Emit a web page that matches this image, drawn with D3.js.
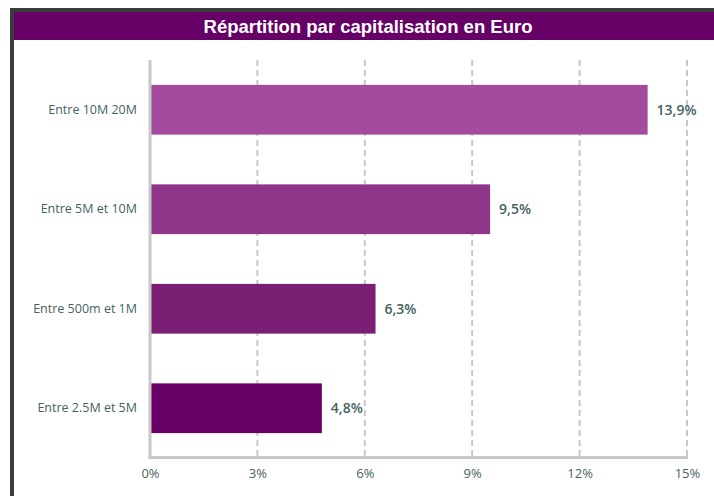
<!DOCTYPE html>
<html>
<head>
<meta charset="utf-8">
<script src="https://cdn.jsdelivr.net/npm/d3@7"></script>
<style>
	body { margin: 0; background: #fff; }
	svg { display: block; }
</style>
</head>
<body>
<div id="chart"></div>
<script>
	// data
	var categories = ["Entre 10M 20M", "Entre 5M et 10M", "Entre 500m et 1M", "Entre 2.5M et 5M"];
	var values = [13.9, 9.5, 6.3, 4.8];
	var valueLabels = ["13,9%", "9,5%", "6,3%", "4,8%"];
	var tickValues = [0, 3, 6, 9, 12, 15];
	var barColors = ["#a54b9f", "#8f3589", "#7a1f74", "#660066"];
	var title = "Répartition par capitalisation en Euro";

	var width = 714, height = 496;
	var textColor = "#456262";
	var labelFont = "'Open Sans', 'Noto Sans', sans-serif";

	var svg = d3.select("#chart").append("svg")
		.attr("width", width)
		.attr("height", height);

	// dark frame
	svg.append("rect").attr("x", 10).attr("y", 8).attr("width", width - 10).attr("height", 4).attr("fill", "#3c3c3c");
	svg.append("rect").attr("x", 10).attr("y", 8).attr("width", 4).attr("height", height - 8).attr("fill", "#3c3c3c");

	// title bar
	svg.append("rect").attr("x", 14).attr("y", 12).attr("width", width - 14).attr("height", 28).attr("fill", "#660066");
	svg.append("text")
		.attr("x", 368)
		.attr("y", 33)
		.attr("text-anchor", "middle")
		.attr("fill", "#fff")
		.style("font-family", "'Liberation Sans', Arial, sans-serif")
		.style("font-weight", "bold")
		.style("font-size", "18.5px")
		.text(title);

	// scales
	var x = d3.scaleLinear().domain([0, 15]).range([150, 687]);
	var y = d3.scaleBand().domain(categories).range([60, 458]).paddingInner(0.5).paddingOuter(0.25);

	// dashed gridlines
	svg.selectAll(".grid")
		.data(tickValues.filter(function(d) { return d > 0; }))
	  .enter().append("line")
		.attr("class", "grid")
		.attr("x1", function(d) { return x(d); })
		.attr("x2", function(d) { return x(d); })
		.attr("y1", 60)
		.attr("y2", 458)
		.attr("stroke", "#c8c8c8")
		.attr("stroke-width", 2)
		.attr("stroke-dasharray", "6,4");

	// bars
	svg.selectAll(".bar")
		.data(values)
	  .enter().append("rect")
		.attr("class", "bar")
		.attr("x", x(0))
		.attr("y", function(d, i) { return y(categories[i]); })
		.attr("width", function(d) { return x(d) - x(0); })
		.attr("height", y.bandwidth())
		.attr("fill", function(d, i) { return barColors[i]; });

	// value labels
	svg.selectAll(".val")
		.data(values)
	  .enter().append("text")
		.attr("class", "val")
		.attr("x", function(d) { return x(d) + 9; })
		.attr("y", function(d, i) { return y(categories[i]) + y.bandwidth() / 2; })
		.attr("dy", "0.35em")
		.attr("fill", textColor)
		.style("font-family", labelFont)
		.style("font-weight", "600")
		.style("font-size", "14px")
		.text(function(d, i) { return valueLabels[i]; });

	// axis lines
	svg.append("line")
		.attr("x1", x(0)).attr("x2", x(0))
		.attr("y1", 60).attr("y2", 459)
		.attr("stroke", "#c8c8c8").attr("stroke-width", 3);
	svg.append("line")
		.attr("x1", x(0) - 1.5).attr("x2", x(15) + 1)
		.attr("y1", 457.5).attr("y2", 457.5)
		.attr("stroke", "#c8c8c8").attr("stroke-width", 3);

	// y labels
	var yAxis = d3.axisLeft(y).tickSize(0).tickPadding(13);
	var yg = svg.append("g")
		.attr("transform", "translate(" + x(0) + ",0)")
		.call(yAxis);
	yg.select(".domain").remove();
	yg.selectAll("text")
		.attr("fill", textColor)
		.style("font-family", labelFont)
		.style("font-size", "12.5px");

	// x labels
	var xAxis = d3.axisBottom(x).tickValues(tickValues).tickSize(0).tickPadding(11)
		.tickFormat(function(d) { return d + "%"; });
	var xg = svg.append("g")
		.attr("transform", "translate(0,458)")
		.call(xAxis);
	xg.select(".domain").remove();
	xg.selectAll("text")
		.attr("fill", textColor)
		.style("font-family", labelFont)
		.style("font-size", "13px");
</script>
</body>
</html>
